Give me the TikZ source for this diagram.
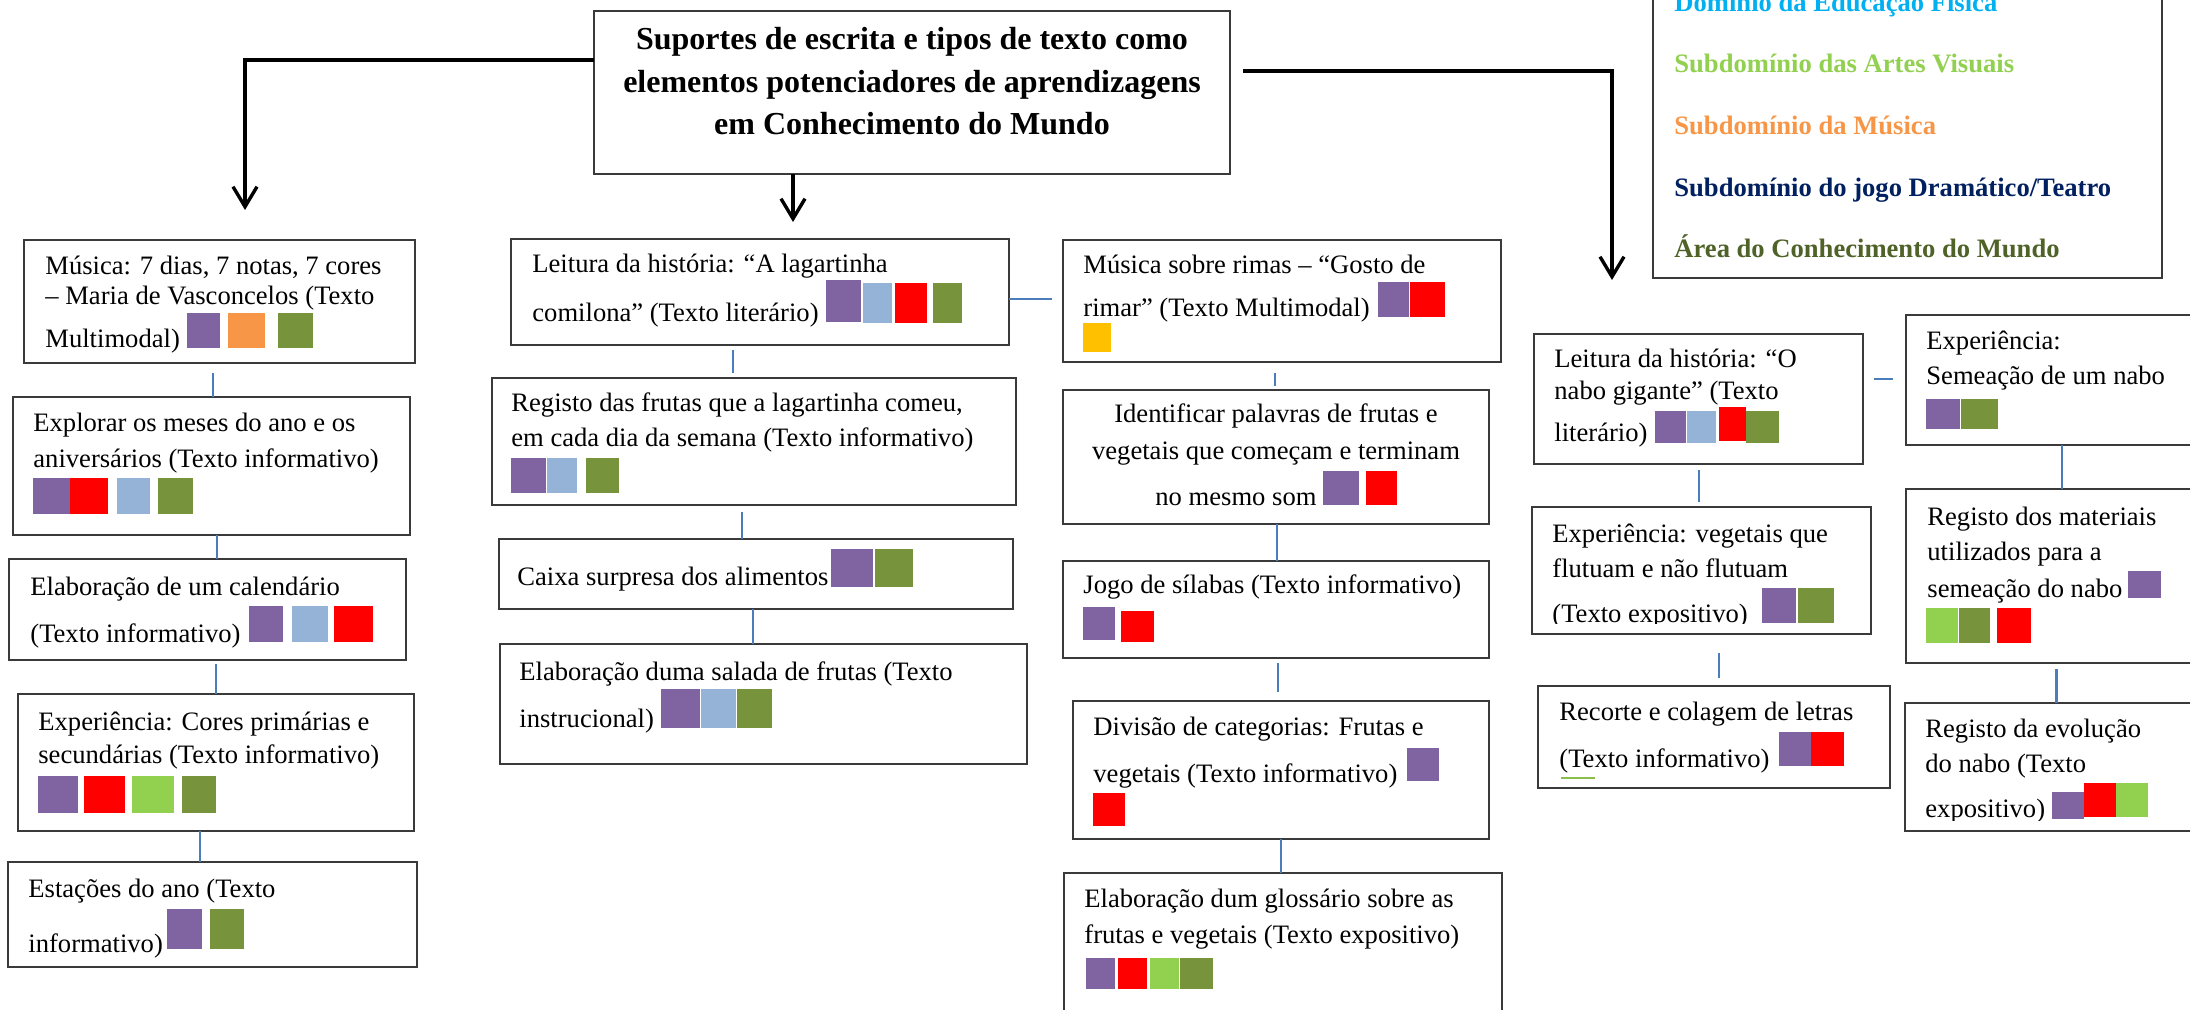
\documentclass[tikz,border=0pt]{standalone}
\usepackage{fontspec}
\setmainfont{Liberation Serif}
\usetikzlibrary{fit,arrows.meta}
\definecolor{cP}{HTML}{8064A2}
\definecolor{cO}{HTML}{F79646}
\definecolor{cG}{HTML}{77933C}
\definecolor{cLB}{HTML}{95B3D7}
\definecolor{cR}{HTML}{FF0000}
\definecolor{cLG}{HTML}{92D050}
\definecolor{cY}{HTML}{FFC000}
\definecolor{cBl}{HTML}{4A7EBB}
\definecolor{lgBlue}{HTML}{00B0F0}
\definecolor{lgNavy}{HTML}{002060}
\definecolor{lgOlive}{HTML}{4F6228}
\definecolor{bord}{HTML}{3A3A3A}
\newcommand\fs{\fontsize{13.3pt}{17.5pt}\selectfont}
\newcommand\sqr[5]{\fill[#1] (#2,#3) rectangle (#4,#5);}
\begin{document}
\begin{tikzpicture}[x=0.5pt,y=-0.5pt,
 box/.style={draw=bord, line width=1pt, inner sep=0pt, outer sep=0pt},
 txt/.style={anchor=base west, inner sep=0pt, font=\fs},
 ctxt/.style={anchor=base, inner sep=0pt, font=\fs},
 ttl/.style={anchor=base, inner sep=0pt, font=\fontsize{16pt}{21pt}\selectfont\bfseries},
 leg/.style={anchor=base west, inner sep=0pt, font=\fs\bfseries},
 conn/.style={draw=cBl, line width=1pt},
 arr/.style={draw=black, line width=1.7pt, -{Straight Barb[length=10pt,width=12pt]}}]
\fill[white] (0,0) rectangle (2190,1010);
\useasboundingbox (0,0) rectangle (2190,1010);

% ---------- title ----------
\node[box, fit={(594,11) (1230,174)}] (T) {};
\node[ttl] (Ta) at (912,50) {Suportes de escrita e tipos de texto como};
\node[ttl] (Tb) at (912,93) {elementos potenciadores de aprendizagens};
\node[ttl] (Tc) at (912,135) {em Conhecimento do Mundo};

% ---------- legend ----------
\node[box, fit={(1653,-20) (2162,278)}] (LGD) {};
\node[leg, text=lgBlue] (LG1) at (1674,12) {Domínio da Educação Física};
\node[leg, text=cLG] (LG2) at (1674,73) {Subdomínio das Artes Visuais};
\node[leg, text=cO] (LG3) at (1674,135) {Subdomínio da Música};
\node[leg, text=lgNavy] (LG4) at (1674,197) {Subdomínio do jogo Dramático/Teatro};
\node[leg, text=lgOlive] (LG5) at (1674,258) {Área do Conhecimento do Mundo};

% ---------- left column ----------
\node[box, fit={(24,240) (415,363)}] (L1) {};
\node[txt] (L1a) at (45,275) {Música: 7 dias, 7 notas, 7 cores};
\node[txt] (L1b) at (45,305) {– Maria de Vasconcelos (Texto};
\node[txt] (L1c) at (45,348) {Multimodal)};
\sqr{cP}{187}{313}{220}{348}
\sqr{cO}{228}{313}{265}{348}
\sqr{cG}{278}{313}{313}{348}

\node[box, fit={(13,397) (410,535)}] (L2) {};
\node[txt] (L2a) at (33,432) {Explorar os meses do ano e os};
\node[txt] (L2b) at (33,467) {aniversários (Texto informativo)};
\sqr{cP}{33}{478}{70}{514}
\sqr{cR}{70}{478}{108}{514}
\sqr{cLB}{117}{478}{150}{514}
\sqr{cG}{158}{478}{193}{514}

\node[box, fit={(9,559) (406,660)}] (L3) {};
\node[txt] (L3a) at (30,595) {Elaboração de um calendário};
\node[txt] (L3b) at (30,642) {(Texto informativo)};
\sqr{cP}{249}{606}{283}{642}
\sqr{cLB}{292}{606}{328}{642}
\sqr{cR}{334}{606}{373}{642}

\node[box, fit={(18,694) (414,831)}] (L4) {};
\node[txt] (L4a) at (38,730) {Experiência: Cores primárias e};
\node[txt] (L4b) at (38,763) {secundárias (Texto informativo)};
\sqr{cP}{38}{776}{78}{813}
\sqr{cR}{84}{776}{125}{813}
\sqr{cLG}{132}{776}{174}{813}
\sqr{cG}{182}{776}{216}{813}

\node[box, fit={(8,862) (417,967)}] (L5) {};
\node[txt] (L5a) at (28,897) {Estações do ano (Texto};
\node[txt] (L5b) at (28,952) {informativo)};
\sqr{cP}{167}{909}{202}{949}
\sqr{cG}{210}{909}{244}{949}

% ---------- middle-left column ----------
\node[box, fit={(511,239) (1009,345)}] (M1) {};
\node[txt] (M1a) at (532,273) {Leitura da história: “A lagartinha};
\node[txt] (M1b) at (532,322) {comilona” (Texto literário)};
\sqr{cP}{826}{280}{861}{322}
\sqr{cLB}{863}{283}{892}{323}
\sqr{cR}{895}{283}{927}{323}
\sqr{cG}{933}{283}{962}{323}

\node[box, fit={(492,378) (1016,505)}] (M3) {};
\node[txt] (M3a) at (511,412) {Registo das frutas que a lagartinha comeu,};
\node[txt] (M3b) at (511,447) {em cada dia da semana (Texto informativo)};
\sqr{cP}{511}{458}{546}{493}
\sqr{cLB}{547}{458}{577}{493}
\sqr{cG}{586}{458}{619}{493}

\node[box, fit={(499,539) (1013,609)}] (M4) {};
\node[txt] (M4a) at (517,585) {Caixa surpresa dos alimentos};
\sqr{cP}{831}{549}{873}{587}
\sqr{cG}{875}{549}{913}{587}

\node[box, fit={(500,644) (1027,764)}] (M5) {};
\node[txt] (M5a) at (519,680) {Elaboração duma salada de frutas (Texto};
\node[txt] (M5b) at (519,727) {instrucional)};
\sqr{cP}{661}{689}{700}{728}
\sqr{cLB}{701}{689}{736}{728}
\sqr{cG}{737}{689}{772}{728}

% ---------- middle-right column ----------
\node[box, fit={(1063,240) (1501,362)}] (R1) {};
\node[txt] (R1a) at (1083,274) {Música sobre rimas – “Gosto de};
\node[txt] (R1b) at (1083,317) {rimar” (Texto Multimodal)};
\sqr{cP}{1378}{282}{1409}{317}
\sqr{cR}{1410}{282}{1445}{317}
\sqr{cY}{1083}{323}{1111}{352}

\node[box, fit={(1063,390) (1489,524)}] (R2) {};
\node[ctxt] (R2a) at (1276,423) {Identificar palavras de frutas e};
\node[ctxt] (R2b) at (1276,459) {vegetais que começam e terminam};
\node[txt] (R2c) at (1155,505) {no mesmo som};
\sqr{cP}{1323}{471}{1359}{505}
\sqr{cR}{1366}{471}{1397}{505}

\node[box, fit={(1063,561) (1489,658)}] (R3) {};
\node[txt] (R3a) at (1083,593) {Jogo de sílabas (Texto informativo)};
\sqr{cP}{1083}{607}{1115}{640}
\sqr{cR}{1121}{611}{1154}{642}

\node[box, fit={(1073,701) (1489,839)}] (R4) {};
\node[txt] (R4a) at (1093,735) {Divisão de categorias: Frutas e};
\node[txt] (R4b) at (1093,782) {vegetais (Texto informativo)};
\sqr{cP}{1407}{748}{1439}{781}
\sqr{cR}{1093}{793}{1125}{826}

\node[box, fit={(1064,873) (1502,1030)}] (R5) {};
\node[txt] (R5a) at (1084,907) {Elaboração dum glossário sobre as};
\node[txt] (R5b) at (1084,943) {frutas e vegetais (Texto expositivo)};
\sqr{cP}{1086}{958}{1115}{989}
\sqr{cR}{1118}{958}{1147}{989}
\sqr{cLG}{1150}{958}{1179}{989}
\sqr{cG}{1180}{958}{1213}{989}

% ---------- right area ----------
\node[box, fit={(1534,334) (1863,464)}] (N1) {};
\node[txt] (N1a) at (1554,368) {Leitura da história: “O};
\node[txt] (N1b) at (1554,400) {nabo gigante” (Texto};
\node[txt] (N1c) at (1554,442) {literário)};
\sqr{cP}{1655}{411}{1686}{443}
\sqr{cLB}{1687}{411}{1716}{443}
\sqr{cR}{1719}{407}{1746}{441}
\sqr{cG}{1746}{411}{1779}{443}

\node[box, fit={(1532,507) (1871,634)}] (N2) {};
\node[txt] (N2a) at (1552,542) {Experiência: vegetais que};
\node[txt] (N2b) at (1552,577) {flutuam e não flutuam};
\begin{scope}
\clip (1540,590) rectangle (1760,623);
\node[txt] (N2c) at (1552,622) {(Texto expositivo)};
\end{scope}
\sqr{cP}{1762}{588}{1796}{623}
\sqr{cG}{1798}{588}{1834}{623}

\node[box, fit={(1538,686) (1890,788)}] (N3) {};
\node[txt] (N3a) at (1559,720) {Recorte e colagem de letras};
\node[txt] (N3b) at (1559,767) {(Texto informativo)};
\sqr{cP}{1779}{732}{1811}{766}
\sqr{cR}{1811}{732}{1844}{766}
\draw[cLG!70!cG, line width=0.6pt] (1561,778) -- (1595,778);

\node[box, fit={(1906,315) (2210,445)}] (S1) {};
\node[txt] (S1a) at (1926,350) {Experiência:};
\node[txt] (S1b) at (1926,385) {Semeação de um nabo};
\sqr{cP}{1926}{399}{1960}{429}
\sqr{cG}{1961}{399}{1998}{429}

\node[box, fit={(1906,489) (2210,663)}] (S2) {};
\node[txt] (S2a) at (1927,525) {Registo dos materiais};
\node[txt] (S2b) at (1927,560) {utilizados para a};
\node[txt] (S2c) at (1927,597) {semeação do nabo};
\sqr{cP}{2128}{571}{2161}{598}
\sqr{cLG}{1926}{608}{1958}{643}
\sqr{cG}{1959}{608}{1990}{643}
\sqr{cR}{1997}{608}{2031}{643}

\node[box, fit={(1905,703) (2210,831)}] (S3) {};
\node[txt] (S3a) at (1925,737) {Registo da evolução};
\node[txt] (S3b) at (1925,772) {do nabo (Texto};
\begin{scope}
\clip (1915,785) rectangle (2050,820);
\node[txt] (S3c) at (1925,817) {expositivo)};
\end{scope}
\sqr{cP}{2052}{792}{2084}{819}
\sqr{cR}{2084}{783}{2116}{817}
\sqr{cLG}{2116}{783}{2148}{817}

% ---------- black arrows ----------
\coordinate (A1) at (245,210);
\coordinate (A2) at (793,222);
\coordinate (A3) at (1612,280);
\draw[arr] (T.west |- 0,60) -| (A1);
\draw[arr] (T.south -| A2) -- (A2);
\draw[arr, shorten <=6.5pt] (T.east |- 0,71) -| (A3);

% ---------- blue connectors ----------
\draw[conn, shorten <=5pt] (L1.south -| 213,0) -- (L2.north -| 213,0);
\draw[conn] (L2.south -| 217,0) -- (L3.north -| 217,0);
\draw[conn, shorten <=2pt] (L3.south -| 216,0) -- (L4.north -| 216,0);
\draw[conn] (L4.south -| 200,0) -- (L5.north -| 200,0);
\draw[conn, shorten <=2.5pt, shorten >=2.5pt] (M1.south -| 733,0) -- (M3.north -| 733,0);
\draw[conn, shorten <=3.5pt] (M3.south -| 742,0) -- (M4.north -| 742,0);
\draw[conn] (M4.south -| 753,0) -- (M5.north -| 753,0);
\draw[conn, shorten >=5.5pt] (M1.east |- 0,299) -- (R1.west |- 0,299);
\draw[conn, shorten <=5.5pt, shorten >=2pt] (R1.south -| 1275,0) -- (R2.north -| 1275,0);
\draw[conn] (R2.south -| 1277,0) -- (R3.north -| 1277,0);
\draw[conn, shorten <=2.5pt, shorten >=4.5pt] (R3.south -| 1278,0) -- (R4.north -| 1278,0);
\draw[conn] (R4.south -| 1281,0) -- (R5.north -| 1281,0);
\draw[conn, shorten <=5.5pt, shorten >=6.5pt] (N1.east |- 0,379) -- (S1.west |- 0,379);
\draw[conn] (S1.south -| 2062,0) -- (S2.north -| 2062,0);
\draw[conn, line width=1.5pt, shorten <=3pt] (S2.south -| 2056,0) -- (S3.north -| 2056,0);
\draw[conn, shorten <=3pt, shorten >=2.5pt] (N1.south -| 1699,0) -- (N2.north -| 1699,0);
\draw[conn, shorten <=9.5pt, shorten >=4pt] (N2.south -| 1719,0) -- (N3.north -| 1719,0);
\end{tikzpicture}
\end{document}
